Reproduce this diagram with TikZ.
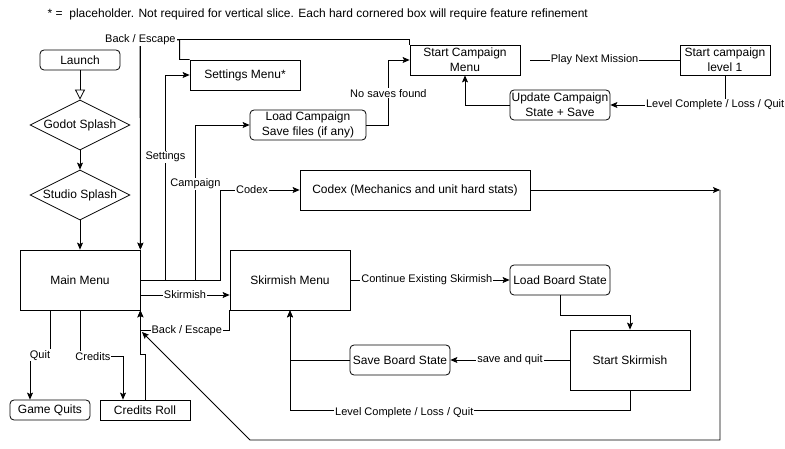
\documentclass[tikz,border=0pt]{standalone}
\usepackage{fontspec}
\setmainfont{Liberation Sans}
\usetikzlibrary{arrows.meta,shapes.geometric}

\begin{document}
\begin{tikzpicture}[x=1pt,y=-1pt,line width=0.8pt,
    box/.style={draw,rectangle,align=center,inner sep=1pt,font=\fontsize{12}{15}\selectfont},
    rbox/.style={box,rounded corners=4pt},
    splash/.style={draw,diamond,aspect=2,minimum width=100pt,minimum height=50pt,inner sep=0pt,font=\fontsize{12}{15}\selectfont},
    flow/.style={-{Stealth[length=7pt,width=6pt,inset=1.5pt]}},
    lbl/.style={fill=white,inner sep=1pt,font=\fontsize{11}{13}\selectfont}]
    \useasboundingbox (0,0) rectangle (785,449);
    \node[anchor=west,font=\fontsize{12}{15}\selectfont] (note) at (44,14) {* =\ \ placeholder. Not required for vertical slice. Each hard cornered box will require feature refinement};
  \node[rbox,minimum width=80pt,minimum height=20pt] (launch) at (80,60) {Launch};
  \node[splash] (godot) at (80,125) {Godot Splash};
  \node[splash] (studio) at (80,195) {Studio Splash};
  \node[box,minimum width=120pt,minimum height=60pt] (mainmenu) at (80,280) {Main Menu};
  \node[rbox,minimum width=80pt,minimum height=20pt] (quits) at (50,410) {Game Quits};
  \node[box,minimum width=90pt,minimum height=20pt] (credits) at (145,410) {Credits Roll};
  \node[box,minimum width=110pt,minimum height=30pt] (settings) at (245,75) {Settings Menu*};
  \node[rbox,minimum width=116pt,minimum height=30pt] (loadcamp) at (308,125) {Load Campaign\\Save files (if any)};
  \node[box,minimum width=110pt,minimum height=30pt] (campmenu) at (465,60) {Start Campaign\\Menu};
  \node[box,minimum width=90pt,minimum height=30pt] (level1) at (725,60) {Start campaign\\level 1};
  \node[rbox,minimum width=100pt,minimum height=30pt] (update) at (560,105) {Update Campaign\\State + Save};
  \node[box,minimum width=230pt,minimum height=40pt] (codex) at (415,190) {Codex (Mechanics and unit hard stats)};
  \node[box,minimum width=120pt,minimum height=60pt] (skirmish) at (290,280) {Skirmish Menu};
  \node[rbox,minimum width=100pt,minimum height=30pt] (loadboard) at (560,280) {Load Board State};
  \node[box,minimum width=120pt,minimum height=60pt] (startskirm) at (630,360) {Start Skirmish};
  \node[rbox,minimum width=100pt,minimum height=30pt] (saveboard) at (400,360) {Save Board State};
  \coordinate (codexend) at (720,190);
  \coordinate (loopbot) at (250,440);
  \coordinate (loopend) at (142,332);
    \draw[-{Triangle[open,length=10pt,width=10pt]}] (launch) -- (godot);
    \draw[flow] (godot) -- (studio);
    \draw[flow] (studio) -- (mainmenu);
    \draw[flow] ([xshift=-30pt]mainmenu.south) -- ++(0,45) -| node[lbl,pos=0.25] {Quit} ([xshift=-20pt]quits.north);
    \draw[flow] (mainmenu.south) -- ++(0,46) -| node[lbl,pos=0.15] {Credits} ([xshift=-22pt]credits.north);
    \draw[flow] (credits.north) -- ++(0,-45) -| (mainmenu.south east);
    \draw[flow] (skirmish.south west) -- ++(0,20) -| node[lbl,pos=0.24] {Back / Escape} (mainmenu.south east);
    \draw[flow] (mainmenu.east) -- ++(25,0) |- node[lbl,pos=0.3] {Settings} (settings.west);
    \draw[flow] (mainmenu.east) -- ++(55,0) |- node[lbl,pos=0.31] {Campaign} (loadcamp.west);
    \draw[flow] (mainmenu.east) -- ++(80,0) |- node[lbl,pos=0.7] {Codex} (codex.west);
    \draw[flow] ([yshift=-15pt]mainmenu.east) -- node[lbl] {Skirmish} ([yshift=-15pt]skirmish.west);
    \draw[flow] (settings.north west) -- ++(-10,0) |- (140,40) -- (mainmenu.north east);
    \draw[flow] (campmenu.north west) -- ++(0,-5) -| node[lbl,pos=0.5] {Back / Escape} (mainmenu.north east);
    \draw[flow] (loadcamp.east) -- ++(22,0) |- node[lbl,pos=0.245] {No saves found} (campmenu.west);
    \draw ([xshift=10pt]campmenu.east) -- node[lbl,pos=0.43] {Play Next Mission} (level1.west);
    \draw[flow] (level1.south) |- node[lbl,pos=0.543] {Level Complete / Loss / Quit} (update.east);
    \draw[flow] (update.west) -| (campmenu.south);
    \draw[flow] (skirmish.east) -- node[lbl,pos=0.48] {Continue Existing Skirmish} (loadboard.west);
    \draw[flow] (loadboard.south) -- ++(0,20) -| (startskirm.north);
    \draw[flow] (startskirm.west) -- node[lbl] {save and quit} (saveboard.east);
    \draw[flow] (saveboard.west) -| (skirmish.south);
    \draw[flow] (startskirm.south) -- ++(0,20) -| node[lbl,pos=0.332,yshift=-2pt] {Level Complete / Loss / Quit} (skirmish.south);
    \draw[flow] (codex.east) -- (codexend);
    \draw[flow] (codexend) |- (loopbot) -- (loopend);
\end{tikzpicture}
\end{document}
